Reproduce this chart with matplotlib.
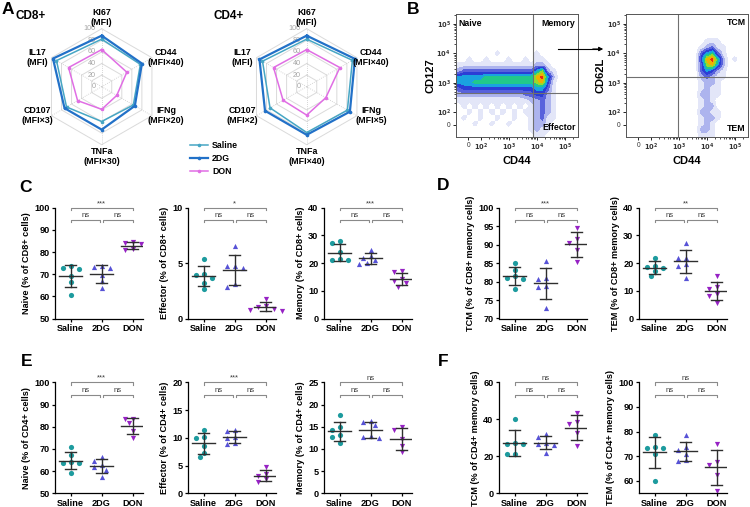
import numpy as np
import matplotlib.pyplot as plt
from matplotlib.colors import ListedColormap, BoundaryNorm

plt.rcParams['font.family'] = ['Liberation Sans', 'DejaVu Sans']
plt.rcParams['font.weight'] = 'bold'
plt.rcParams['axes.labelweight'] = 'bold'

W, H = 750, 507
fig = plt.figure(figsize=(7.5, 5.07), dpi=100)


def box(left, top, right, bottom):
    """axes from a pixel box (origin top-left)"""
    return fig.add_axes([left / W, 1 - bottom / H, (right - left) / W, (bottom - top) / H])


# ---------------- data ----------------
groups = ['Saline', '2DG', 'DON']
group_colors = ['#1d9b9e', '#5752d6', '#9622c4']
group_markers = ['o', '^', 'v']

# radar (A)
cd8_labels = ['KI67\n(MFI)', 'CD44\n(MFI×40)', 'IFNg\n(MFI×20)', 'TNFa\n(MFI×30)', 'CD107\n(MFI×3)', 'IL17\n(MFI)']
cd4_labels = ['KI67\n(MFI)', 'CD44\n(MFI×40)', 'IFNg\n(MFI×5)', 'TNFa\n(MFI×40)', 'CD107\n(MFI×2)', 'IL17\n(MFI)']
cd8_saline = [82, 77, 63, 60, 70, 90]
cd8_2dg = [88, 80, 66, 74, 74, 97]
cd8_don = [64, 50, 30, 39, 48, 66]
cd4_saline = [82, 91, 81, 79, 73, 88]
cd4_2dg = [88, 96, 86, 83, 83, 94]
cd4_don = [64, 66, 38, 49, 47, 66]
radar_rings = [20, 40, 60, 80, 100]
radar_ticks = [0, 20, 40, 60, 80, 100]

# flow plots (B): coarse density, rows top (10^5) -> bottom (0)
flow_ticks = [1.56, 2, 3, 4, 5]
flow_ticklabels = ['0', '$10^2$', '$10^3$', '$10^4$', '$10^5$']
flow_left = [
    "0000000000000000000000",
    "0000000000000000000000",
    "0000000000000000000000",
    "0000000000000000000000",
    "0000000000000000000000",
    "0000000000000000000000",
    "0000000100000010000000",
    "0010010001001011000000",
    "1111111111111122100000",
    "2333333333333357210000",
    "5555566666666689520000",
    "5556666666666678410000",
    "3444444444444455310000",
    "2222222222223344210000",
    "1111111111111223210000",
    "0101010101010123210000",
    "0010101010101123210000",
    "0100100100100123110000",
    "0001001001000122100000",
    "0000000000000121100000",
    "0000000000000011000000",
]
flow_right = [
    "0000000000000000000000",
    "0000000000000000000000",
    "0000000000000000000000",
    "0000000000000000000000",
    "0000000000000011100000",
    "0000000000000123110000",
    "0000000000000356310000",
    "0000000000000489620100",
    "0000000000000378520000",
    "0000000000000354210000",
    "0000000000000232110000",
    "0000000000000122100000",
    "0000000000000121100000",
    "0000000000000221100000",
    "0000000000000121000000",
    "0000000000000122000000",
    "0000000000000221100000",
    "0000000000000122100000",
    "0000000000000121000000",
    "0000000000000221000000",
    "0000000000000111000000",
]
flow_colors = ['#ffffff', '#e3e6f8', '#adb4ee', '#5862dc', '#2b3ed6',
               '#1aa2e0', '#22c88a', '#9ad82a', '#f0b000', '#e82a10']

# dot plots (C-F): individual animals
c_naive = [[73.7, 72.6, 72.3, 69.0, 66.3, 60.8], [73.5, 73.3, 73.0, 69.5, 67.0, 63.8], [84.3, 84.1, 83.8, 81.2, 80.9]]
c_effector = [[5.4, 4.0, 3.9, 3.7, 3.2, 2.7], [6.5, 4.7, 4.7, 4.6, 3.1, 2.8], [1.8, 1.15, 1.0, 0.85, 0.75, 0.7]]
c_memory = [[28.0, 27.2, 24.0, 21.0, 21.2, 21.4], [24.8, 22.5, 21.8, 21.0, 19.7, 20.2], [17.2, 16.8, 14.3, 13.5, 12.8, 11.5]]
d_tcm = [[85.0, 83.2, 81.6, 81.0, 80.8, 77.9], [85.5, 81.0, 80.8, 78.5, 78.8, 72.8], [94.6, 91.5, 90.5, 88.5, 85.3]]
d_tem = [[22.0, 19.0, 18.6, 18.3, 17.0, 15.2], [27.2, 22.0, 21.8, 19.5, 18.8, 14.8], [15.3, 11.5, 10.6, 9.0, 8.2, 5.6]]
e_naive = [[70.8, 67.3, 64.2, 63.8, 63.5, 59.0], [66.2, 64.5, 62.8, 62.0, 60.5, 57.2], [83.5, 83.3, 81.5, 78.0, 75.0]]
e_effector = [[11.4, 10.2, 10.0, 8.5, 7.3, 6.6], [11.4, 11.3, 10.1, 9.9, 9.0, 8.8], [4.8, 3.5, 3.2, 2.5, 2.0]]
e_memory = [[17.6, 15.0, 14.2, 13.2, 12.6, 11.4], [16.3, 16.1, 15.4, 12.8, 12.6, 12.4], [15.0, 14.3, 12.3, 10.6, 9.2]]
f_tcm = [[40.0, 27.2, 26.8, 26.5, 21.5, 21.0], [31.8, 30.5, 27.0, 26.5, 26.0, 21.8], [43.5, 38.5, 37.5, 32.5, 25.5]]
f_tem = [[78.8, 73.8, 73.5, 73.2, 70.8, 60.0], [78.5, 73.8, 72.5, 71.0, 68.5, 68.2], [74.8, 67.5, 66.5, 62.5, 56.0]]


# ---------------- A: radar charts ----------------
def radar(ax, labels, series):
    ang = np.deg2rad(90 - 60 * np.arange(6))
    ca, sa = np.cos(ang), np.sin(ang)
    for r in radar_rings:
        ax.plot(np.append(ca, ca[0]) * r / 100, np.append(sa, sa[0]) * r / 100,
                color='#dadada', lw=0.7, zorder=1)
    for c, s in zip(ca, sa):
        ax.plot([0, c], [0, s], color='#c8c8c8', lw=0.6, ls=(0, (1, 1.5)), zorder=1)
    for t in radar_ticks:
        ax.text(-0.1, t / 100, str(t), ha='right', va='center', fontsize=5.2,
                color='#a5a5a5', fontweight='normal', zorder=2)
    handles = []
    for vals, color, lw, name in series:
        v = np.array(vals) / 100.0
        h, = ax.plot(np.append(v * ca, v[0] * ca[0]), np.append(v * sa, v[0] * sa[0]),
                     color=color, lw=lw, marker='o', ms=1.6, label=name, zorder=3)
        handles.append(h)
    for lab, c, s in zip(labels, ca, sa):
        ly = 1.2 * s if abs(c) < 0.01 else 1.0 * s
        ax.text(1.28 * c, ly, lab, ha='center', va='center', fontsize=6.4,
                linespacing=1.15)
    lim = 70 / 58.0
    ax.set_xlim(-lim, lim)
    ax.set_ylim(-lim, lim)
    ax.axis('off')
    return handles


ax_r8 = box(31.7, 16.7, 171.7, 156.7)
h8 = radar(ax_r8, cd8_labels, [(cd8_don, '#e06ee4', 1.1, 'DON'),
                               (cd8_saline, '#46a6c4', 1.1, 'Saline'),
                               (cd8_2dg, '#2271c8', 1.6, '2DG')])
ax_r4 = box(236.7, 16.7, 376.7, 156.7)
radar(ax_r4, cd4_labels, [(cd4_don, '#e06ee4', 1.1, 'DON'),
                          (cd4_saline, '#46a6c4', 1.1, 'Saline'),
                          (cd4_2dg, '#2271c8', 1.6, '2DG')])
fig.legend([h8[1], h8[2], h8[0]], ['Saline', '2DG', 'DON'], loc='upper left',
           bbox_to_anchor=(186 / W, 1 - 137 / H), frameon=False, fontsize=6.3,
           handlelength=2.0, handletextpad=0.5, labelspacing=0.45, borderpad=0)

fig.text(31 / W, 1 - 16 / H, 'CD8+', ha='center', va='center', fontsize=8.5)
fig.text(229 / W, 1 - 16 / H, 'CD4+', ha='center', va='center', fontsize=8.5)


# ---------------- B: flow plots ----------------
cmap = ListedColormap(flow_colors)
norm = BoundaryNorm(np.arange(-0.5, 10.5, 1), cmap.N)


def flow(ax, grid, xlabel, ylabel, vgate, hgate):
    img = np.array([[int(ch) for ch in row] for row in grid], dtype=float)
    ax.imshow(img, cmap=cmap, norm=norm, extent=(1.1, 5.5, 1.1, 5.3), origin='upper',
              aspect='auto', interpolation='bilinear', zorder=1)
    ax.set_xlim(1.12, 5.47)
    ax.set_ylim(1.15, 5.34)
    ax.axvline(vgate, color='#707070', lw=0.8, zorder=2)
    ax.axhline(hgate, color='#707070', lw=0.8, zorder=2)
    minors = [d + np.log10(k) for d in range(2, 6) for k in range(2, 10) if d + np.log10(k) < 5.4]
    for axis in (ax.xaxis, ax.yaxis):
        axis.set_ticks(flow_ticks)
        axis.set_ticklabels(flow_ticklabels)
        axis.set_ticks(minors, minor=True)
    ax.tick_params(which='major', length=2.2, width=0.6, labelsize=4.8, pad=1.5,
                   labelcolor='#333333')
    ax.tick_params(which='minor', length=1.2, width=0.5)
    for lab in ax.get_xticklabels() + ax.get_yticklabels():
        lab.set_fontweight('normal')
    for sp in ax.spines.values():
        sp.set_linewidth(0.7)
        sp.set_color('#555555')
    ax.set_xlabel(xlabel, fontsize=8, labelpad=2)
    ax.set_ylabel(ylabel, fontsize=8, labelpad=1)


ax_fl = box(456, 14, 578, 137)
flow(ax_fl, flow_left, 'CD44', 'CD127', 3.87, 2.65)
ax_fl.text(0.02, 0.96, 'Naive', transform=ax_fl.transAxes, ha='left', va='top', fontsize=6.3)
ax_fl.text(0.98, 0.96, 'Memory', transform=ax_fl.transAxes, ha='right', va='top', fontsize=6.3)
ax_fl.text(0.98, 0.04, 'Effector', transform=ax_fl.transAxes, ha='right', va='bottom', fontsize=6.3)

ax_fr = box(626, 14, 748, 137)
flow(ax_fr, flow_right, 'CD44', 'CD62L', 2.99, 3.18)
ax_fr.text(0.98, 0.97, 'TCM', transform=ax_fr.transAxes, ha='right', va='top', fontsize=6.3)
ax_fr.text(0.98, 0.03, 'TEM', transform=ax_fr.transAxes, ha='right', va='bottom', fontsize=6.3)

fig.add_artist(plt.Line2D([558 / W, 600 / W], [1 - 49 / H, 1 - 49 / H], color='k', lw=0.8))
ax_fl.annotate('', xy=(606 / W, 1 - 49 / H), xytext=(590 / W, 1 - 49 / H),
               xycoords='figure fraction', textcoords='figure fraction',
               arrowprops=dict(arrowstyle='-|>', color='k', lw=0.8, mutation_scale=6))


# ---------------- C-F: dot plots ----------------
def spread(vals, ypx, step=4.0, dist=5.5):
    """simple beeswarm: horizontal offsets (px) so markers do not overlap"""
    order = np.argsort(vals)[::-1]
    placed = []
    offs = np.zeros(len(vals))
    for i in order:
        y = vals[i] * ypx
        k = 0
        pos = None
        while pos is None:
            cands = [0.0] if k == 0 else [-k * step, k * step]
            for x in cands:
                if all((x - px) ** 2 + (y - py) ** 2 >= dist ** 2 for px, py in placed):
                    pos = x
                    break
            k += 1
        placed.append((pos, y))
        offs[i] = pos
    return offs


def bracket(ax, x0, x1, yf, text, hpx):
    tr = ax.get_xaxis_transform()
    dy = 2.4 / hpx
    ax.plot([x0, x0, x1, x1], [yf - dy, yf, yf, yf - dy], transform=tr,
            color='#8a8a8a', lw=0.8, clip_on=False)
    ax.text((x0 + x1) / 2, yf + 4.3 / hpx, text, transform=tr, ha='center', va='center',
            fontsize=5.6, fontweight='normal', color='#3a3a3a')


XPX = 31.0


def dotplot(left, top, bottom, data, ylim, yticks, ylabel, sig):
    right = left + 2.85 * XPX
    ax = box(left, top, right, bottom)
    hpx = bottom - top
    ypx = hpx / (ylim[1] - ylim[0])
    ax.set_xlim(-0.5, 2.35)
    ax.set_ylim(*ylim)
    for g, vals in enumerate(data):
        vals = np.array(vals)
        xo = g + spread(vals, ypx) / XPX
        ax.scatter(xo, vals, s=14, marker=group_markers[g], color=group_colors[g],
                   linewidths=0, zorder=2, clip_on=False)
        m, sd = vals.mean(), vals.std(ddof=1)
        ax.plot([g - 0.37, g + 0.37], [m, m], color='#2e2e2e', lw=1.0, zorder=3)
        ax.plot([g, g], [m - sd, m + sd], color='#2e2e2e', lw=1.0, zorder=3)
        ax.plot([g - 0.18, g + 0.18], [m + sd, m + sd], color='#2e2e2e', lw=1.0, zorder=3)
        ax.plot([g - 0.18, g + 0.18], [m - sd, m - sd], color='#2e2e2e', lw=1.0, zorder=3)
    ax.set_xticks(range(3))
    ax.set_xticklabels(groups)
    ax.set_yticks(yticks)
    ax.spines['top'].set_visible(False)
    ax.spines['right'].set_visible(False)
    for sp in ('left', 'bottom'):
        ax.spines[sp].set_linewidth(0.9)
    ax.tick_params(axis='both', length=2.5, width=0.9, labelsize=6.6, pad=1.5)
    ax.tick_params(axis='x', length=2, pad=2)
    ax.set_ylabel(ylabel, fontsize=6.6, labelpad=2)
    bracket(ax, 0, 2, 1.0, sig[0], hpx)
    bracket(ax, 0, 0.95, 1 - 12.3 / hpx, sig[1], hpx)
    bracket(ax, 1.05, 2, 1 - 12.3 / hpx, sig[2], hpx)
    return ax


top1, bot1 = 207.7, 318.5
top2, bot2 = 382.3, 493.3
dotplot(55, top1, bot1, c_naive, (50, 100), range(50, 101, 10), 'Naive (% of CD8+ cells)', ['***', 'ns', 'ns'])
dotplot(188, top1, bot1, c_effector, (0, 10), [0, 5, 10], 'Effector (% of CD8+ cells)', ['*', 'ns', 'ns'])
dotplot(324, top1, bot1, c_memory, (0, 40), range(0, 41, 10), 'Memory (% of CD8+ cells)', ['***', 'ns', 'ns'])
dotplot(499, top1, bot1, d_tcm, (70, 100), range(70, 101, 5), 'TCM (% of CD8+ memory cells)', ['***', 'ns', 'ns'])
dotplot(639, top1, bot1, d_tem, (0, 40), range(0, 41, 10), 'TEM (% of CD8+ memory cells)', ['**', 'ns', 'ns'])
dotplot(55, top2, bot2, e_naive, (50, 100), range(50, 101, 10), 'Naive (% of CD4+ cells)', ['***', 'ns', 'ns'])
dotplot(188, top2, bot2, e_effector, (0, 20), range(0, 21, 5), 'Effector (% of CD4+ cells)', ['***', 'ns', 'ns'])
dotplot(324, top2, bot2, e_memory, (0, 25), range(0, 26, 5), 'Memory (% of CD4+ cells)', ['ns', 'ns', 'ns'])
dotplot(499, top2, bot2, f_tcm, (0, 60), range(0, 61, 20), 'TCM (% of CD4+ memory cells)', ['ns', 'ns', 'ns'])
dotplot(639, top2, bot2, f_tem, (55, 100), range(60, 101, 10), 'TEM (% of CD4+ memory cells)', ['ns', 'ns', 'ns'])

# panel letters
for letter, x, y in [('A', 8, 9), ('B', 413, 10), ('C', 26, 187), ('D', 443, 186),
                     ('E', 27, 361), ('F', 443, 361)]:
    fig.text(x / W, 1 - y / H, letter, ha='center', va='center', fontsize=12.5)

fig.savefig('out.png', dpi=100)
